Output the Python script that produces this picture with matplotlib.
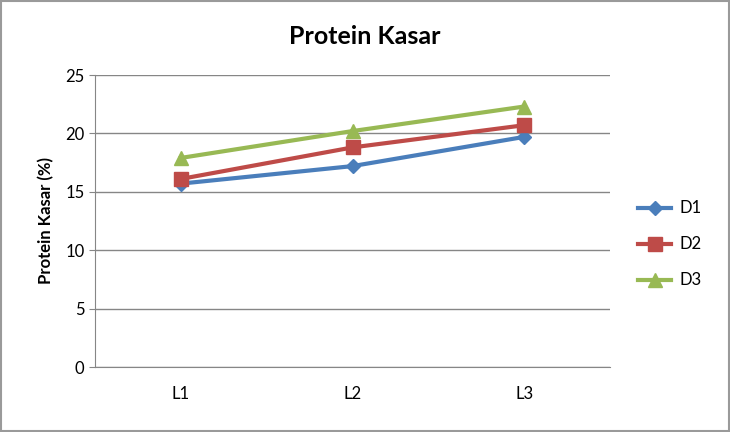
import numpy as np
import matplotlib.pyplot as plt
from matplotlib.patches import Rectangle

plt.rcParams['font.family'] = ['Lato', 'DejaVu Sans']

# data
categories = ['L1', 'L2', 'L3']
d1 = [15.7, 17.2, 19.7]
d2 = [16.1, 18.8, 20.7]
d3 = [17.9, 20.2, 22.3]

fig = plt.figure(figsize=(7.3, 4.32), dpi=100)
ax = fig.add_axes([95 / 730, 1 - 367 / 432, 515 / 730, 292 / 432])

x = np.arange(len(categories))
ax.plot(x, d1, color='#4A7EBB', lw=3, marker='D', ms=7, label='D1')
ax.plot(x, d2, color='#BE4B48', lw=3, marker='s', ms=10, label='D2')
ax.plot(x, d3, color='#98B954', lw=3, marker='^', ms=10, label='D3')

ax.set_xlim(-0.5, 2.5)
ax.set_ylim(0, 25)
ax.set_yticks(range(0, 26, 5))
ax.set_xticks(x)
ax.set_xticklabels(categories)
ax.yaxis.grid(True, color='#868686', lw=1)
ax.set_axisbelow(True)
for s in ['top', 'right']:
    ax.spines[s].set_visible(False)
ax.spines['left'].set_color('#868686')
ax.spines['bottom'].set_color('#868686')
ax.tick_params(axis='both', labelsize=12, color='#868686', length=4)
ax.tick_params(axis='x', length=0, pad=14)
ax.set_ylabel('Protein Kasar (%)', fontsize=12, fontweight='bold', labelpad=8)

fig.text(365 / 730, 1 - 36 / 432, 'Protein Kasar', ha='center', va='center',
         fontsize=18, fontweight='bold')

ax.legend(loc='center left', bbox_to_anchor=(1.025, 0.42), frameon=False,
          fontsize=12, handlelength=2.0, handletextpad=0.5, labelspacing=1.2)

fig.patches.append(Rectangle((0.002, 0.003), 0.996, 0.994, transform=fig.transFigure,
                             fill=False, edgecolor='#9a9a9a', lw=1.5))

fig.savefig('out.png', dpi=100)
